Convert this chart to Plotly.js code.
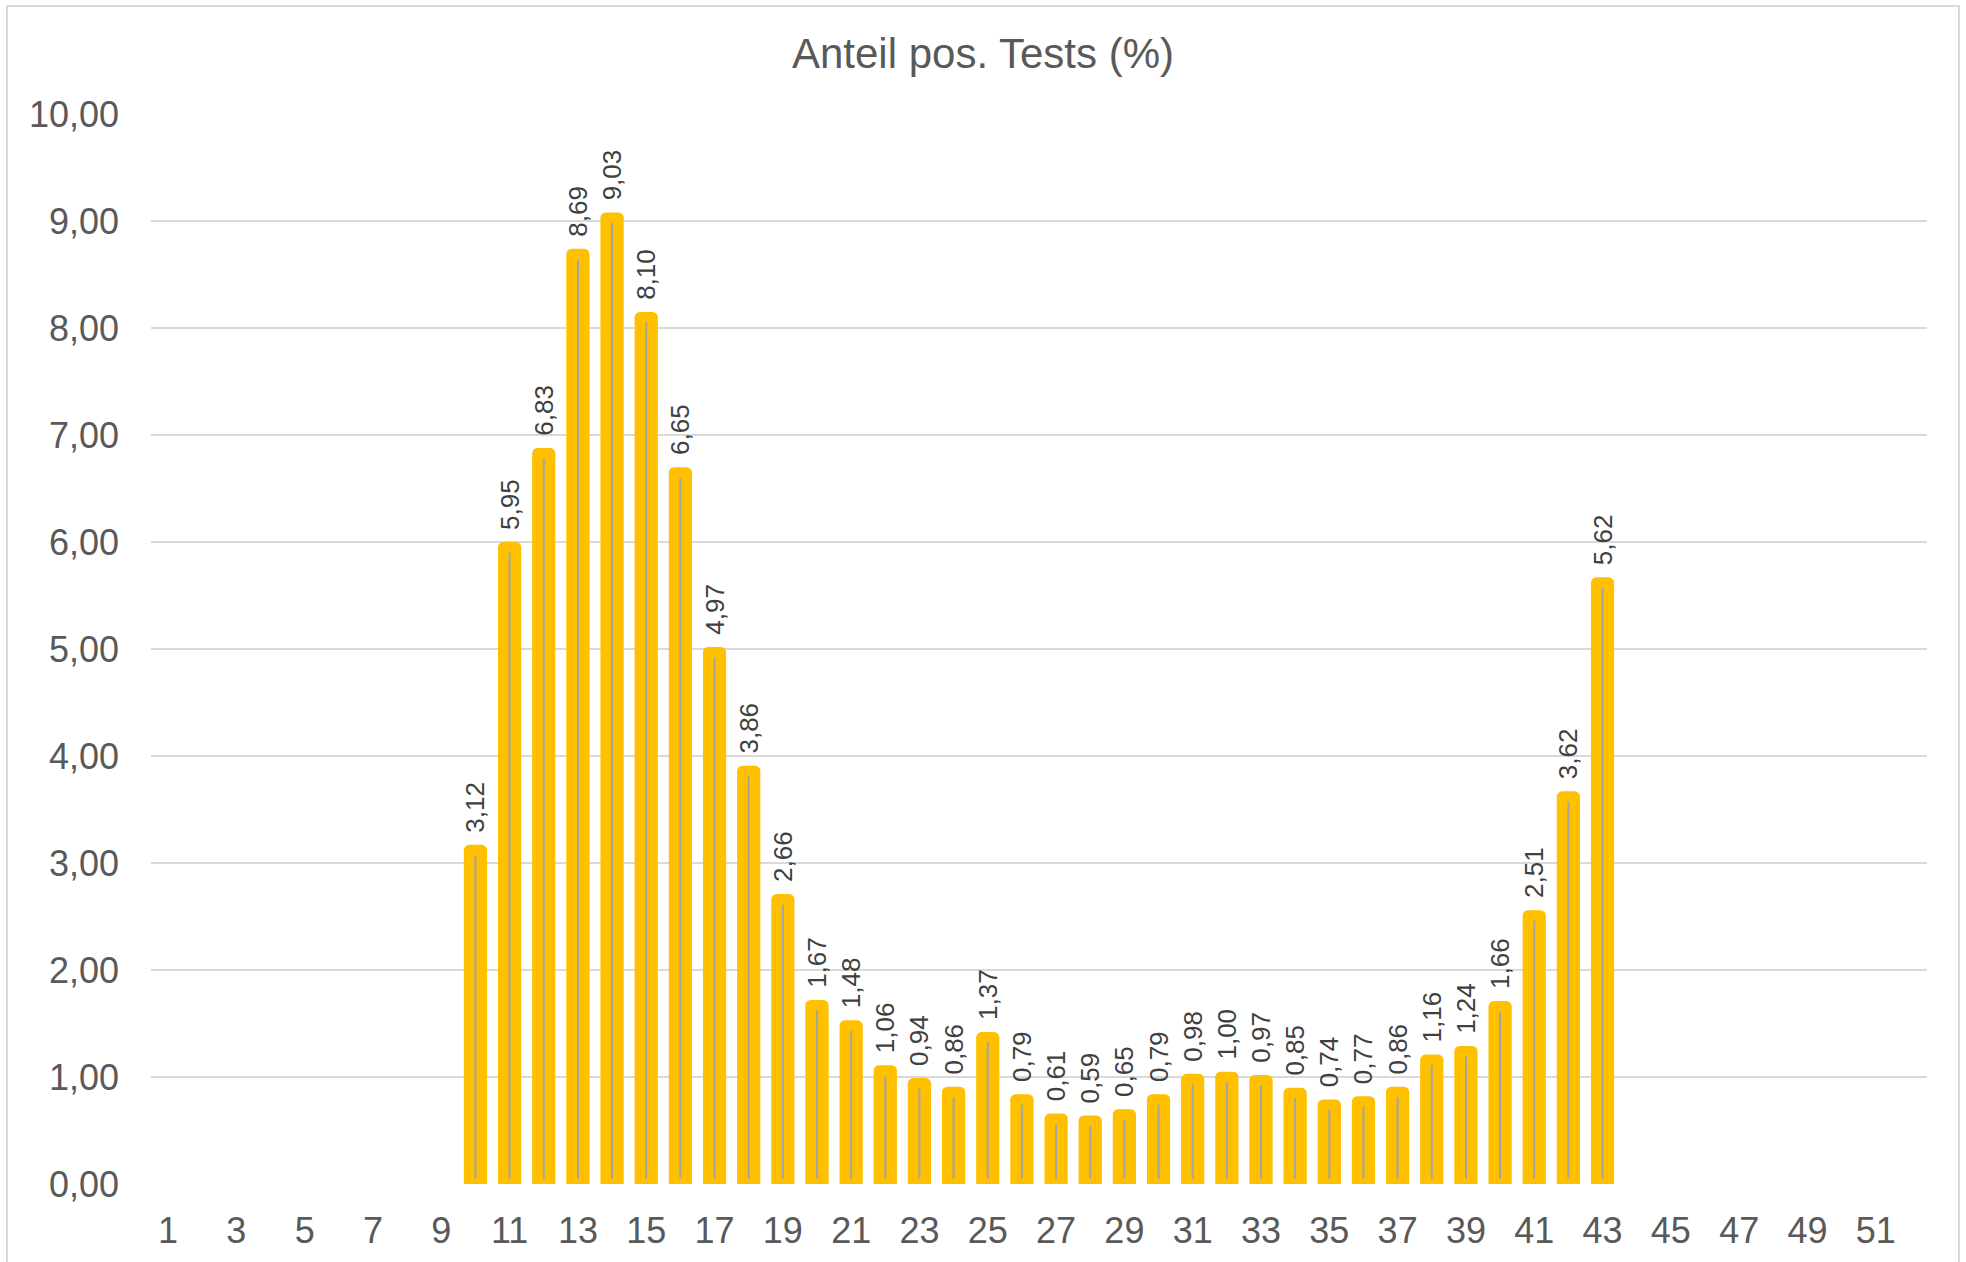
<!DOCTYPE html>
<html>
<head>
<meta charset="utf-8">
<script src="https://cdn.plot.ly/plotly-3.0.1.min.js"></script>
<style>
  html, body { margin: 0; padding: 0; background: #ffffff; }
  #chart { width: 1966px; height: 1262px; }
  #chart .bars .point path { stroke-linejoin: round; }
</style>
</head>
<body>
<div id="chart"></div>
<script>
// Calendar weeks (categories)
const weeks = [];
for (let w = 1; w <= 52; w++) weeks.push(w);

// Anteil positiver Tests (%) per week; null = no value
const shares = [
  null, null, null, null, null, null, null, null, null,      // 1-9
  3.12, 5.95, 6.83, 8.69, 9.03, 8.10, 6.65, 4.97, 3.86, 2.66, // 10-19
  1.67, 1.48, 1.06, 0.94, 0.86, 1.37, 0.79, 0.61, 0.59, 0.65, // 20-29
  0.79, 0.98, 1.00, 0.97, 0.85, 0.74, 0.77, 0.86, 1.16, 1.24, // 30-39
  1.66, 2.51, 3.62, 5.62,                                      // 40-43
  null, null, null, null, null, null, null, null, null         // 44-52
];

const titleText = 'Anteil pos. Tests (%)';
const yTicks = [0, 1, 2, 3, 4, 5, 6, 7, 8, 9, 10];
const xTicks = [1, 3, 5, 7, 9, 11, 13, 15, 17, 19, 21, 23, 25, 27, 29, 31, 33, 35, 37, 39, 41, 43, 45, 47, 49, 51];

const FONT = 'Liberation Sans, Arial, sans-serif';

// data labels (German decimal comma); leading no-break spaces give the gap above the bar
const labels = shares.map(v => v == null ? '' : '\u00A0\u00A0' + v.toFixed(2).replace('.', ','));

const trace = {
  type: 'bar',
  x: weeks,
  y: shares,
  width: 0.37,
  marker: {
    color: '#A5A5A5',
    line: { color: '#FFC000', width: 10.6 }
  },
  text: labels,
  texttemplate: '%{text}',
  textposition: 'outside',
  textangle: -90,
  constraintext: 'none',
  outsidetextfont: { family: FONT, size: 26, color: '#404040' },
  hoverinfo: 'x+y',
  cliponaxis: true
};

const L = 151, R = 39, T = 114, B = 78;
const W = 1966, H = 1262;
const pw = W - L - R, ph = H - T - B;

const layout = {
  width: W,
  height: H,
  margin: { l: L, r: R, t: T, b: B, pad: 0 },
  paper_bgcolor: '#ffffff',
  plot_bgcolor: '#ffffff',
  separators: ',.',
  showlegend: false,
  font: { family: FONT, color: '#595959' },
  title: {
    text: titleText,
    font: { family: FONT, size: 42, color: '#595959' },
    x: 0.5, xref: 'container', xanchor: 'center',
    y: 1 - 53.5 / H, yref: 'container', yanchor: 'middle'
  },
  xaxis: {
    range: [0.5, 52.5],
    tickmode: 'array',
    tickvals: xTicks,
    ticktext: xTicks.map(String),
    showgrid: false,
    zeroline: false,
    showline: false,
    ticks: '',
    ticklabelstandoff: 22,
    tickfont: { family: FONT, size: 36, color: '#595959' },
    fixedrange: true
  },
  yaxis: {
    range: [0, 10],
    tickmode: 'array',
    tickvals: yTicks,
    tickformat: '.2f',
    showgrid: true,
    gridcolor: '#D9D9D9',
    gridwidth: 1.5,
    zeroline: false,
    showline: false,
    ticks: '',
    ticklabelstandoff: 31,
    tickfont: { family: FONT, size: 36, color: '#595959' },
    fixedrange: true
  },
  shapes: [{
    type: 'rect',
    xref: 'paper', yref: 'paper',
    x0: (7 - L) / pw, x1: (1959 - L) / pw,
    y0: ((H - B) - (H + 10)) / ph, y1: ((H - B) - 6) / ph,
    line: { color: '#D9D9D9', width: 2 },
    fillcolor: 'rgba(0,0,0,0)',
    layer: 'below'
  }]
};

Plotly.newPlot('chart', [trace], layout, { displayModeBar: false, staticPlot: true });
</script>
</body>
</html>
